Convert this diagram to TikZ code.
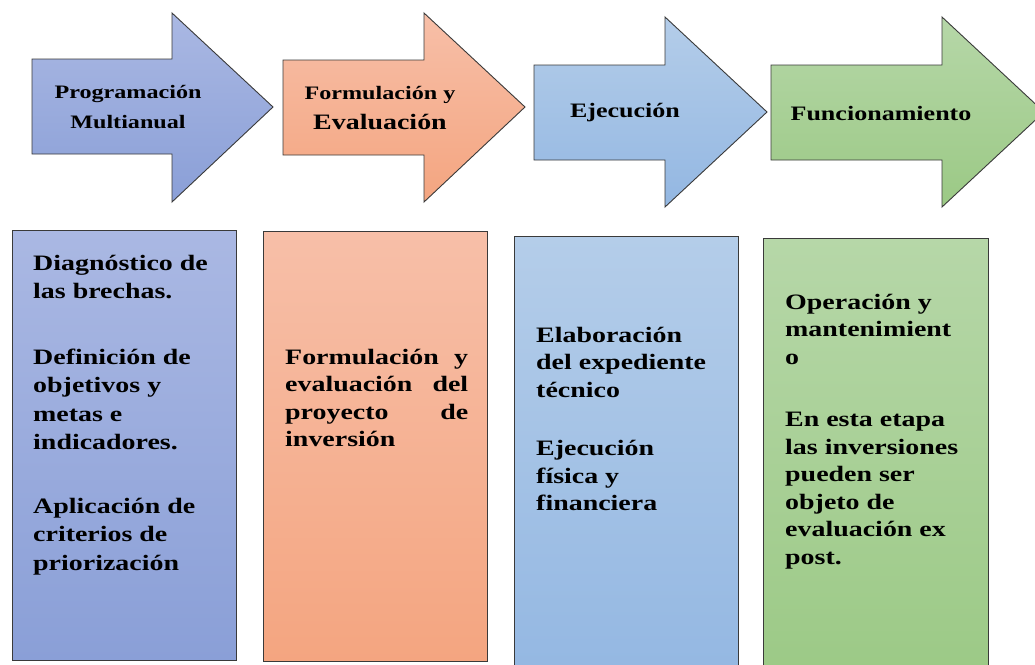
\documentclass[tikz,border=0pt]{standalone}
\usepackage{fontspec}
\setmainfont{Liberation Serif}[FakeStretch=1.27]
\definecolor{pat}{HTML}{AAB8E3}\definecolor{pab}{HTML}{8A9FD7}
\definecolor{pbt}{HTML}{F7BFA8}\definecolor{pbb}{HTML}{F4A580}
\definecolor{pct}{HTML}{B4CDE9}\definecolor{pcb}{HTML}{93B7E2}
\definecolor{pdt}{HTML}{B6D7A8}\definecolor{pdb}{HTML}{9BC985}
\definecolor{edge}{HTML}{3A3A3A}
\begin{document}
\begin{tikzpicture}[x=1pt,y=-1pt,
  arrowshape/.style={draw=edge, line width=0.9pt, line join=miter},
  stagebox/.style={draw=edge, line width=0.9pt, anchor=north west, inner sep=0pt},
  ttl/.style={font=\bfseries\fontsize{19}{30}\selectfont, align=center, inner sep=0pt},
  txt/.style={font=\bfseries\fontsize{22}{27.5}\selectfont, align=left, inner sep=0pt, anchor=north west},
]
\useasboundingbox (0,0) rectangle (1035,664);
\clip (0,0) rectangle (1035,664);
\fill[white] (0,0) rectangle (1035,664);

% arrows
\path[arrowshape, top color=pat, bottom color=pab]
  (32,59) -- (172,59) -- (172,13) -- (273,107) -- (172,202) -- (172,154) -- (32,154) -- cycle;
\path[arrowshape, top color=pbt, bottom color=pbb]
  (283,60) -- (424,60) -- (424,13) -- (525,107) -- (424,202) -- (424,155) -- (283,155) -- cycle;
\path[arrowshape, top color=pct, bottom color=pcb]
  (534,65) -- (665,65) -- (665,17) -- (767,112) -- (665,207) -- (665,160) -- (534,160) -- cycle;
\path[arrowshape, top color=pdt, bottom color=pdb]
  (771,65) -- (942,65) -- (942,17) -- (1044,112) -- (942,207) -- (942,160) -- (771,160) -- cycle;

\node[ttl] (a1) at (128,107) {Programación\\Multianual};
\node[ttl] (a2) at (380,108) {Formulación y\\{\fontsize{22}{30}\selectfont Evaluación}};
\node[ttl, font=\bfseries\fontsize{20.5}{30}\selectfont] (a3) at (625,113) {Ejecución};
\node[ttl, font=\bfseries\fontsize{20.5}{30}\selectfont] (a4) at (881,114) {Funcionamiento};

% boxes
\node[stagebox, top color=pat, bottom color=pab, minimum width=224pt, minimum height=430pt] (b1) at (12,230) {};
\node[stagebox, top color=pbt, bottom color=pbb, minimum width=224pt, minimum height=430pt] (b2) at (263,231) {};
\node[stagebox, top color=pct, bottom color=pcb, minimum width=224pt, minimum height=450pt] (b3) at (514,236) {};
\node[stagebox, top color=pdt, bottom color=pdb, minimum width=225pt, minimum height=450pt] (b4) at (763,238) {};

\node[txt, font=\bfseries\fontsize{22}{28.5}\selectfont] (t1) at (33,250) {\strut Diagnóstico de\\las brechas.\\[37pt]Definición de\\objetivos y\\metas e\\indicadores.\\[35pt]Aplicación de\\criterios de\\priorización};
\node[txt, text width=183pt] (t2) at (285,345) {\strut Formulación\hfill y\\evaluación\hfill del\\proyecto\hfill de\\inversión};
\node[txt] (t3) at (536,323) {\strut Elaboración\\del expediente\\técnico\\[31pt]Ejecución\\física y\\financiera};
\node[txt] (t4) at (785,290) {\strut Operación y\\mantenimient\\o\\[35pt]En esta etapa\\las inversiones\\pueden ser\\objeto de\\evaluación ex\\post.};
\end{tikzpicture}
\end{document}
